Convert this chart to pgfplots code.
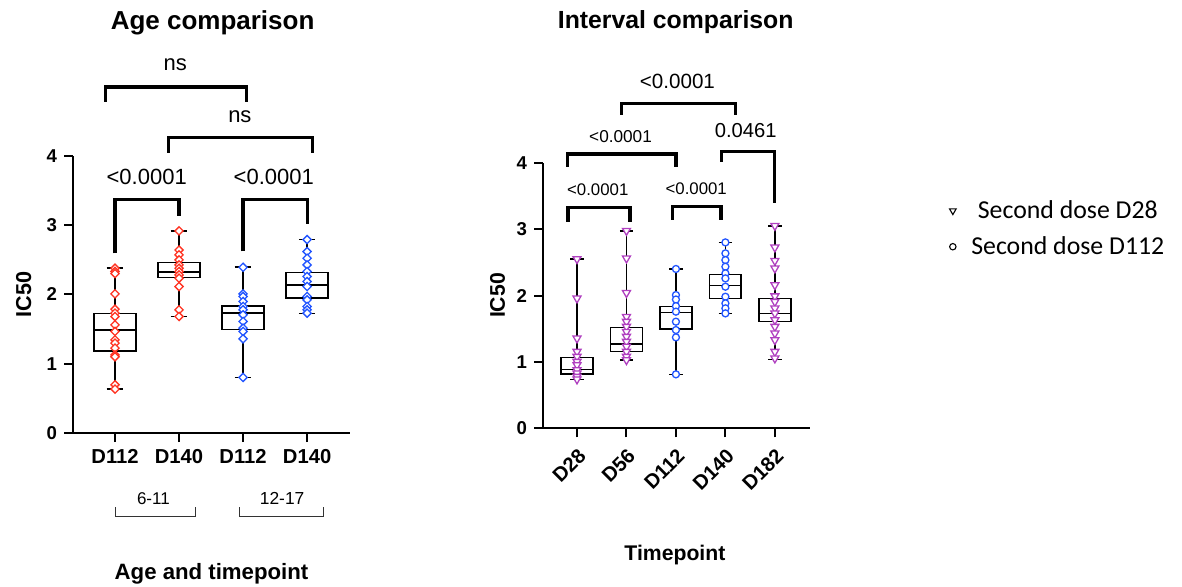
\documentclass[border=0pt]{standalone}
\usepackage{pgfplots}
\pgfplotsset{compat=1.18}
\usepgfplotslibrary{statistics}
\usepackage{fontspec}
\setmainfont{Liberation Sans}
\newfontfamily\calibri{Carlito}
\definecolor{redc}{RGB}{255,51,34}
\definecolor{bluec}{RGB}{34,85,255}
\definecolor{purc}{RGB}{176,64,192}
\newcommand{\fs}[1]{\fontsize{#1}{#1}\selectfont}
\tikzset{brk/.style={line width=1.6pt, line join=miter}}
\pgfplotsset{
  gp/.style={
    scale only axis, clip=false,
    ymin=0, ymax=4, ytick={0,1,2,3,4},
    axis x line=bottom, axis y line=left,
    axis line style={-, line width=1pt},
    major tick style={line width=1pt, black},
    tick align=outside, major tick length=4.5pt,
    /pgf/number format/assume math mode=true,
    yticklabel style={font=\fs{9.3}\bfseries},
    xticklabel style={font=\fs{10.1}\bfseries},
    boxplot/draw direction=y,
  },
  bx/.style={draw=black, line width=0.8pt, solid, mark=none},
  dia/.style={only marks, mark=square*, mark size=1.45pt, mark options={rotate=45, fill=white, draw=#1, line width=0.65pt}},
  tri/.style={only marks, mark=triangle*, mark size=2.3pt, mark options={rotate=180, fill=white, draw=purc, line width=0.65pt}},
  cir/.style={only marks, mark=*, mark size=1.75pt, mark options={fill=white, draw=bluec, line width=0.65pt}},
  legimg/.style={legend image code/.code={\path[draw=none, fill=none] (-2pt,-1pt) rectangle (7.25pt,1pt); \draw[##1] plot coordinates {(0pt,0pt)};}},
}
\begin{document}
\begin{tikzpicture}
\path[use as bounding box] (0pt,0pt) rectangle (591pt,-293pt);
% ---------------- Left panel
\begin{axis}[gp,
  at={(36.5pt,-216.5pt)}, anchor=south west,
  width=138.5pt, height=138.65pt,
  xmin=0.344, xmax=4.67,
  xtick={1,2,3,4}, xticklabels={D112,D140,D112,D140},
  ylabel={IC50}, ylabel style={at={(axis description cs:-0.178,0.5)}, anchor=center, font=\fs{10.8}\bfseries},
  xlabel={Age and timepoint}, xlabel style={at={(axis description cs:0.5,-0.508)}, anchor=center, font=\fs{11.1}\bfseries},
]
\addplot[bx, boxplot prepared={draw position=1, lower whisker=0.634, lower quartile=1.181, median=1.489, upper quartile=1.724, upper whisker=2.377, box extend=0.65, whisker extend=0.26}] coordinates {};
\addplot[bx, boxplot prepared={draw position=2, lower whisker=1.681, lower quartile=2.243, median=2.324, upper quartile=2.459, upper whisker=2.915, box extend=0.65, whisker extend=0.26}] coordinates {};
\addplot[bx, boxplot prepared={draw position=3, lower whisker=0.802, lower quartile=1.493, median=1.729, upper quartile=1.830, upper whisker=2.391, box extend=0.65, whisker extend=0.26}] coordinates {};
\addplot[bx, boxplot prepared={draw position=4, lower whisker=1.724, lower quartile=1.945, median=2.132, upper quartile=2.315, upper whisker=2.790, box extend=0.65, whisker extend=0.26}] coordinates {};
\addplot[dia=redc] coordinates {(1,2.377)(1,2.33)(1,2.30)(1,2.007)(1,1.786)(1,1.729)(1,1.68)(1,1.56)(1,1.465)(1,1.345)(1,1.297)(1,1.225)(1,1.128)(1,1.10)(1,0.696)(1,0.634)};
\addplot[dia=redc] coordinates {(2,2.915)(2,2.64)(2,2.57)(2,2.497)(2,2.425)(2,2.377)(2,2.33)(2,2.28)(2,2.233)(2,2.113)(2,1.777)(2,1.681)};
\addplot[dia=bluec] coordinates {(3,2.391)(3,2.007)(3,1.969)(3,1.897)(3,1.825)(3,1.777)(3,1.705)(3,1.609)(3,1.513)(3,1.465)(3,1.359)(3,0.802)};
\addplot[dia=bluec] coordinates {(4,2.79)(4,2.617)(4,2.521)(4,2.425)(4,2.329)(4,2.257)(4,2.185)(4,2.113)(4,1.969)(4,1.921)(4,1.825)(4,1.777)(4,1.729)};
% title
\node[font=\fs{13}\bfseries] at (axis description cs:0.504,1.479) {Age comparison};
% brackets
\draw[brk] (axis cs:0.85,4.78) -- (axis cs:0.85,4.99) -- (axis cs:3.05,4.99) -- (axis cs:3.05,4.78);
\node[font=\fs{11}] at (axis cs:1.94,5.31) {ns};
\draw[brk] (axis cs:1.84,4.04) -- (axis cs:1.84,4.26) -- (axis cs:4.08,4.26) -- (axis cs:4.08,4.04);
\node[font=\fs{11}] at (axis cs:2.95,4.56) {ns};
\draw[brk] (axis cs:1,2.59) -- (axis cs:1,3.37) -- (axis cs:2,3.37) -- (axis cs:2,3.13);
\node[font=\fs{11}] at (axis cs:1.495,3.70) {<0.0001};
\draw[brk] (axis cs:3,2.62) -- (axis cs:3,3.37) -- (axis cs:4,3.37) -- (axis cs:4,3.02);
\node[font=\fs{11}] at (axis cs:3.48,3.70) {<0.0001};
% group brackets
\draw[line width=0.5pt, black!80] (axis cs:1,-1.072) -- (axis cs:1,-1.207) -- (axis cs:2.25,-1.207) -- (axis cs:2.25,-1.072);
\node[font=\fs{8.5}] at (axis cs:1.60,-0.943) {6-11};
\draw[line width=0.5pt, black!80] (axis cs:2.95,-1.072) -- (axis cs:2.95,-1.207) -- (axis cs:4.255,-1.207) -- (axis cs:4.255,-1.072);
\node[font=\fs{8.7}] at (axis cs:3.61,-0.943) {12-17};
\end{axis}
% ---------------- Right panel
\begin{axis}[gp,
  at={(271.5pt,-214.15pt)}, anchor=south west,
  width=133.5pt, height=132.8pt,
  xmin=0.313, xmax=5.71,
  xtick={1,2,3,4,5}, xticklabels={D28,D56,D112,D140,D182},
  xticklabel style={rotate=45, anchor=north east, font=\fs{10.1}\bfseries},
  ylabel={IC50}, ylabel style={at={(axis description cs:-0.170,0.5)}, anchor=center, font=\fs{10.6}\bfseries},
  xlabel={Timepoint}, xlabel style={at={(axis description cs:0.494,-0.477)}, anchor=center, font=\fs{10.6}\bfseries},
  legend style={at={(1.496,0.89)}, anchor=north west, draw=none, fill=none, font=\calibri\fs{12.9}, row sep=3.5pt},
]
\addlegendimage{only marks, mark=triangle, mark size=1.9pt, mark options={rotate=180, draw=black, line width=0.55pt}, legimg}
\addlegendentry{Second dose D28}
\addlegendimage{only marks, mark=o, mark size=1.6pt, mark options={draw=black, line width=0.55pt}, legimg}
\addlegendentry{Second dose D112}
\addplot[bx, forget plot, boxplot prepared={draw position=1, lower whisker=0.738, lower quartile=0.818, median=0.888, upper quartile=1.064, upper whisker=2.55, box extend=0.64, whisker extend=0.27}] coordinates {};
\addplot[bx, forget plot, boxplot prepared={draw position=2, lower whisker=1.029, lower quartile=1.154, median=1.27, upper quartile=1.516, upper whisker=2.976, box extend=0.64, whisker extend=0.27}] coordinates {};
\addplot[bx, forget plot, boxplot prepared={draw position=3, lower whisker=0.813, lower quartile=1.50, median=1.742, upper quartile=1.837, upper whisker=2.40, box extend=0.64, whisker extend=0.27}] coordinates {};
\addplot[bx, forget plot, boxplot prepared={draw position=4, lower whisker=1.731, lower quartile=1.957, median=2.148, upper quartile=2.319, upper whisker=2.80, box extend=0.64, whisker extend=0.27}] coordinates {};
\addplot[bx, forget plot, boxplot prepared={draw position=5, lower whisker=1.039, lower quartile=1.606, median=1.731, upper quartile=1.957, upper whisker=3.05, box extend=0.64, whisker extend=0.27}] coordinates {};
\addplot[tri, forget plot] coordinates {(1,2.55)(1,1.957)(1,1.355)(1,1.154)(1,1.079)(1,1.004)(1,0.954)(1,0.878)(1,0.828)(1,0.778)(1,0.738)};
\addplot[tri, forget plot] coordinates {(2,2.976)(2,2.56)(2,2.04)(2,1.68)(2,1.606)(2,1.531)(2,1.455)(2,1.38)(2,1.305)(2,1.23)(2,1.154)(2,1.079)(2,1.029)};
\addplot[cir, forget plot] coordinates {(3,2.40)(3,2.007)(3,1.94)(3,1.84)(3,1.757)(3,1.606)(3,1.48)(3,1.37)(3,0.813)};
\addplot[cir, forget plot] coordinates {(4,2.80)(4,2.635)(4,2.534)(4,2.434)(4,2.334)(4,2.258)(4,2.133)(4,1.982)(4,1.882)(4,1.807)(4,1.731)};
\addplot[tri, forget plot] coordinates {(5,3.05)(5,2.725)(5,2.524)(5,2.409)(5,2.158)(5,1.99)(5,1.907)(5,1.807)(5,1.731)(5,1.631)(5,1.531)(5,1.43)(5,1.33)(5,1.154)(5,1.054)};
% title
\node[font=\fs{12.4}\bfseries] at (axis description cs:0.497,1.531) {Interval comparison};
% brackets
\draw[brk] (axis cs:1.90,4.72) -- (axis cs:1.90,4.896) -- (axis cs:4.2,4.896) -- (axis cs:4.2,4.72);
\node[font=\fs{10.3}] at (axis cs:3.03,5.22) {<0.0001};
\draw[brk] (axis cs:0.8,3.94) -- (axis cs:0.8,4.13) -- (axis cs:3.0,4.13) -- (axis cs:3.0,3.94);
\node[font=\fs{8.6}] at (axis cs:1.88,4.40) {<0.0001};
\draw[brk] (axis cs:3.92,4.015) -- (axis cs:3.92,4.166) -- (axis cs:5.0,4.166) -- (axis cs:5.0,3.39);
\node[font=\fs{10.1}] at (axis cs:4.41,4.49) {0.0461};
\draw[brk] (axis cs:0.82,3.11) -- (axis cs:0.82,3.33) -- (axis cs:2.07,3.33) -- (axis cs:2.07,3.11);
\node[font=\fs{8.4}] at (axis cs:1.42,3.60) {<0.0001};
\draw[brk] (axis cs:2.93,3.14) -- (axis cs:2.93,3.34) -- (axis cs:3.91,3.34) -- (axis cs:3.91,3.14);
\node[font=\fs{8.4}] at (axis cs:3.41,3.61) {<0.0001};
\end{axis}
\end{tikzpicture}
\end{document}
